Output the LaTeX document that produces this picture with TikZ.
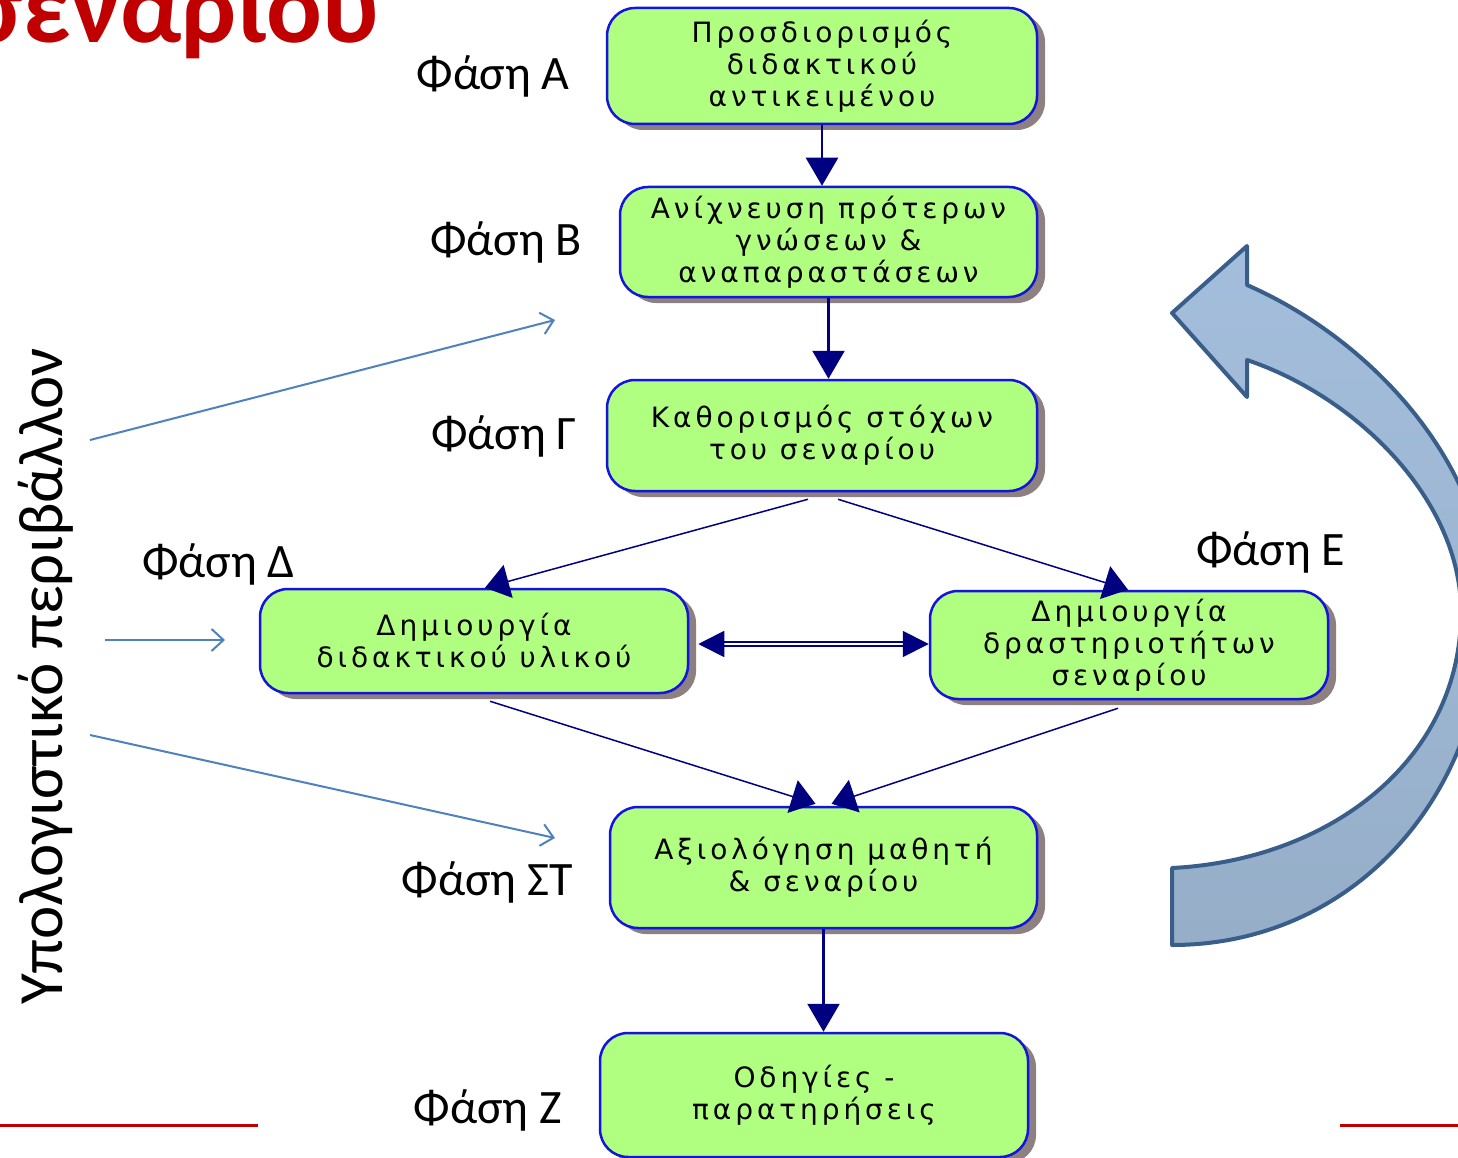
\documentclass[tikz,border=0pt]{standalone}
\usepackage{fontspec}
\setmainfont{Carlito}
\newfontfamily\boxfont[LetterSpace=14]{DejaVu Sans}
\usetikzlibrary{arrows.meta,shadows,calc}
\definecolor{boxfill}{RGB}{176,255,128}
\definecolor{boxline}{RGB}{20,20,220}
\definecolor{shadowgray}{RGB}{140,128,128}
\definecolor{navyc}{RGB}{0,0,128}
\definecolor{envblue}{RGB}{79,129,189}
\definecolor{titlered}{RGB}{192,0,0}
\definecolor{cycletop}{RGB}{163,190,220}
\definecolor{cyclebot}{RGB}{150,174,200}
\definecolor{cycleline}{RGB}{58,94,138}
\begin{document}
\begin{tikzpicture}[x=1pt,y=-1pt,
  phase/.style={rectangle, rounded corners=28pt, draw=boxline, line width=2.5pt, fill=boxfill,
    drop shadow={shadow xshift=8pt,shadow yshift=-6pt,fill=shadowgray,opacity=1},
    align=center, font=\boxfont\fontsize{28}{32}\selectfont, inner sep=0pt},
  plabel/.style={font=\fontsize{48}{58}\selectfont, inner sep=0pt},
  flow/.style={draw=navyc, line width=2.5pt, -{Triangle[length=28pt,width=32pt]}},
  diag/.style={draw=navyc, line width=1.5pt, -{Triangle[length=24pt,width=34pt]}},
  envarrow/.style={draw=envblue, line width=2pt, -{Straight Barb[length=12pt,width=22pt]}},
  redline/.style={draw=titlered, line width=3pt},
]
\useasboundingbox (0,0) rectangle (1458,1158);
\fill[white] (0,0) rectangle (1458,1158);

% cycle arrow
\path[draw=cycleline, line width=4pt, line join=round, top color=cycletop, bottom color=cyclebot]
  (1172,868) .. controls (1330,860) and (1461,760) .. (1461,612)
  .. controls (1461,500) and (1357,397) .. (1247,360)
  -- (1247,397) -- (1172,313) -- (1247,246) -- (1247,285)
  .. controls (1377,342) and (1487,470) .. (1487,600)
  .. controls (1487,800) and (1350,945) .. (1172,945) -- cycle;

% title
\node[font=\bfseries\fontsize{104}{110}\selectfont, text=titlered, anchor=base east, inner sep=0pt] (title) at (380,43) {σεναρίου};

% boxes
\node[phase, minimum width=430pt, minimum height=116pt] (A) at (822,66) {Προσδιορισμός\\διδακτικού\\αντικειμένου};
\node[phase, minimum width=417pt, minimum height=110pt] (B) at (828.5,242) {Ανίχνευση πρότερων\\γνώσεων \&\\αναπαραστάσεων};
\node[phase, minimum width=430pt, minimum height=111pt] (G) at (822,435.5) {Καθορισμός στόχων\\του σεναρίου};
\node[phase, minimum width=428pt, minimum height=104pt] (D) at (474,641) {Δημιουργία\\διδακτικού υλικού};
\node[phase, minimum width=398pt, minimum height=108pt] (E) at (1129,645) {Δημιουργία\\δραστηριοτήτων\\σεναρίου};
\node[phase, minimum width=427pt, minimum height=121pt] (ST) at (823.5,867.5) {Αξιολόγηση μαθητή\\\& σεναρίου};
\node[phase, minimum width=428pt, minimum height=124pt] (Z) at (814,1095) {Οδηγίες -\\παρατηρήσεις};

% phase labels
\node[plabel, anchor=base east] (lA) at (570,90) {Φάση Α};
\node[plabel, anchor=base east] (lB) at (582,255) {Φάση Β};
\node[plabel, anchor=base east] (lG) at (577,449) {Φάση Γ};
\node[plabel, anchor=base west] (lD) at (142,577) {Φάση Δ};
\node[plabel, anchor=base west] (lE) at (1196,565) {Φάση Ε};
\node[plabel, anchor=base east] (lST) at (573,895) {Φάση ΣΤ};
\node[plabel, anchor=base east] (lZ) at (562,1123) {Φάση Ζ};

% environment label
\node[plabel, font=\fontsize{63}{70}\selectfont, rotate=90, anchor=base west] (env) at (62,1005) {Υπολογιστικό περιβάλλον};

% flow connectors
\draw[flow] (A.south) -- (A.south |- B.north);
\draw[flow] (B.south) -- (B.south |- G.north);
\draw[flow] (ST.south) -- (ST.south |- Z.north);
\draw[diag] ($(G.south)+(-14,7)$) -- ($(D.north)+(11,0)$);
\draw[diag] ($(G.south)+(16,7)$) -- ($(E.north)+(-1,0)$);
\draw[diag] ($(D.south)+(16,7)$) -- ($(ST.north)+(-8,-2)$);
\draw[diag] ($(E.south)+(-11,8)$) -- ($(ST.north)+(8,-2)$);
\draw[navyc, line width=1.8pt, double=white, double distance=2pt,
  {Triangle[length=26pt,width=26pt]}-{Triangle[length=26pt,width=26pt]}]
  ($(D.east)+(9,3)$) -- ($(E.west)+(0,-1)$);

% environment arrows
\coordinate (e1s) at (90,440); \coordinate (e1t) at (555,320);
\coordinate (e2s) at (105,640); \coordinate (e2t) at (225,640);
\coordinate (e3s) at (90,735); \coordinate (e3t) at (555,838);
\draw[envarrow] (e1s) -- (e1t);
\draw[envarrow] (e2s) -- (e2t);
\draw[envarrow] (e3s) -- (e3t);

% red footer lines
\coordinate (r1a) at (0,1125); \coordinate (r1b) at (258,1125);
\coordinate (r2a) at (1340,1125); \coordinate (r2b) at (1458,1125);
\draw[redline] (r1a) -- (r1b);
\draw[redline] (r2a) -- (r2b);
\end{tikzpicture}
\end{document}
